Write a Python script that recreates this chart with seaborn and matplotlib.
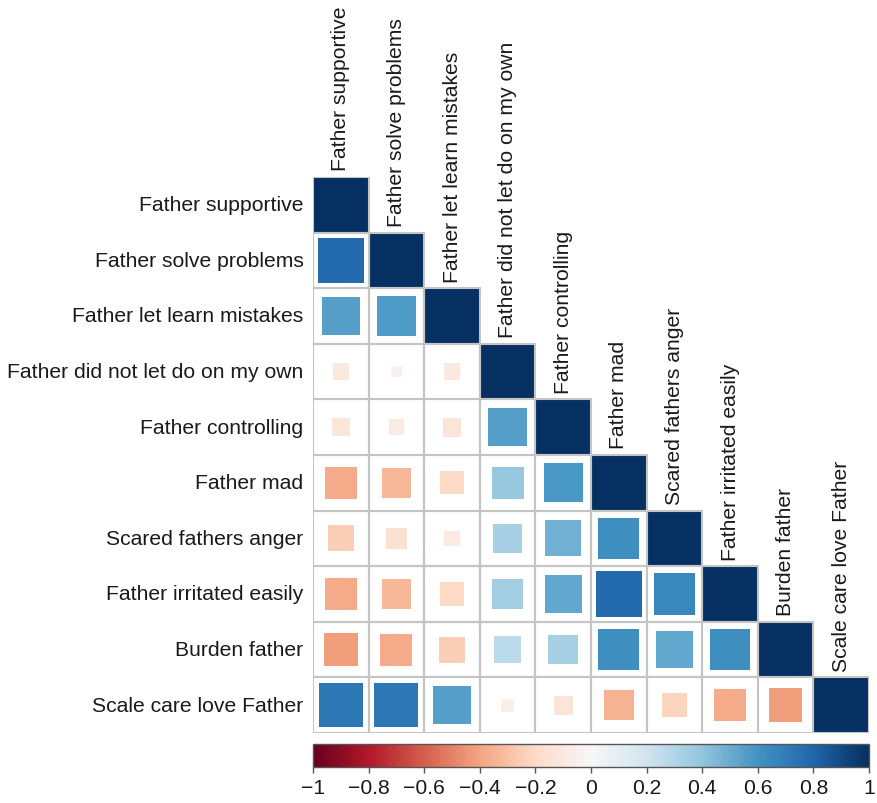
import numpy as np
import pandas as pd
import matplotlib
matplotlib.use("Agg")
import matplotlib.pyplot as plt
from matplotlib.patches import Rectangle
from matplotlib.colors import ListedColormap, Normalize
import matplotlib.cm as cm
import seaborn as sns

labels = ["Father supportive", "Father solve problems", "Father let learn mistakes",
          "Father did not let do on my own", "Father controlling", "Father mad",
          "Scared fathers anger", "Father irritated easily", "Burden father",
          "Scale care love Father"]

# lower-triangle correlations, row by row (excluding diagonal)
row2 = [0.78]
row3 = [0.55, 0.57]
row4 = [-0.10, -0.04, -0.10]
row5 = [-0.12, -0.09, -0.13, 0.55]
row6 = [-0.38, -0.33, -0.20, 0.38, 0.58]
row7 = [-0.25, -0.16, -0.09, 0.33, 0.48, 0.62]
row8 = [-0.38, -0.33, -0.20, 0.35, 0.52, 0.78, 0.65]
row9 = [-0.42, -0.38, -0.25, 0.27, 0.33, 0.62, 0.52, 0.62]
row10 = [0.72, 0.72, 0.55, -0.06, -0.13, -0.35, -0.22, -0.38, -0.42]
rows = [[], row2, row3, row4, row5, row6, row7, row8, row9, row10]

cbar_ticks = [-1, -0.8, -0.6, -0.4, -0.2, 0, 0.2, 0.4, 0.6, 0.8, 1]
cbar_ticklabels = ["\u22121", "\u22120.8", "\u22120.6", "\u22120.4", "\u22120.2", "0",
                   "0.2", "0.4", "0.6", "0.8", "1"]

n = len(labels)
M = np.eye(n)
for i, r in enumerate(rows):
    for j, v in enumerate(r):
        M[i, j] = v
        M[j, i] = v
df = pd.DataFrame(M, index=labels, columns=labels)

plt.rcParams['font.family'] = ['Liberation Sans', 'DejaVu Sans']
W, H = 877, 804
fig = plt.figure(figsize=(W / 100, H / 100), dpi=100)
gx0, gx1, gy0, gy1 = 313, 869, 178, 734
ax = fig.add_axes([gx0 / W, 1 - gy1 / H, (gx1 - gx0) / W, (gy1 - gy0) / H])

mask = np.triu(np.ones_like(M, dtype=bool), k=1)
sns.heatmap(df * 0, mask=mask, cmap=ListedColormap(["white"]), cbar=False,
            linewidths=0, ax=ax, square=False)
ax.set_xticks([]); ax.set_yticks([])
ax.set_xlabel(""); ax.set_ylabel("")

cmap = plt.get_cmap("RdBu")
norm = Normalize(-1, 1)
grid_col = "#c4c4c4"
for i in range(n):
    for j in range(i + 1):
        v = df.iloc[i, j]
        s = 1.0 if i == j else np.sqrt(abs(v)) * 0.93
        ax.add_patch(Rectangle((j + 0.5 - s / 2, i + 0.5 - s / 2), s, s,
                               facecolor=cmap(norm(v)), edgecolor="none", zorder=2))
        ax.add_patch(Rectangle((j, i), 1, 1, facecolor="none", edgecolor=grid_col,
                               lw=1.5, zorder=3))
for sp in ax.spines.values():
    sp.set_visible(False)

fs = 15.2
tc = "#1a1a1a"
for i, lab in enumerate(labels):
    ax.text(-0.17, i + 0.5, lab, ha="right", va="center", fontsize=fs, color=tc,
            clip_on=False)
    ax.text(i + 0.5, i - 0.12, lab, ha="center", va="bottom", rotation=90,
            fontsize=fs, color=tc, clip_on=False)

cax = fig.add_axes([gx0 / W, 1 - 768 / H, (gx1 - gx0) / W, 23 / H])
sm = cm.ScalarMappable(norm=norm, cmap=cmap)
cb = fig.colorbar(sm, cax=cax, orientation="horizontal")
cb.set_ticks(cbar_ticks)
cb.set_ticklabels(cbar_ticklabels)
cb.outline.set_edgecolor("#555555")
cb.outline.set_linewidth(1)
cax.tick_params(axis="x", length=4, width=1, color="#555555", labelsize=fs,
                labelcolor=tc, pad=4)

fig.savefig("out.png", dpi=100)
